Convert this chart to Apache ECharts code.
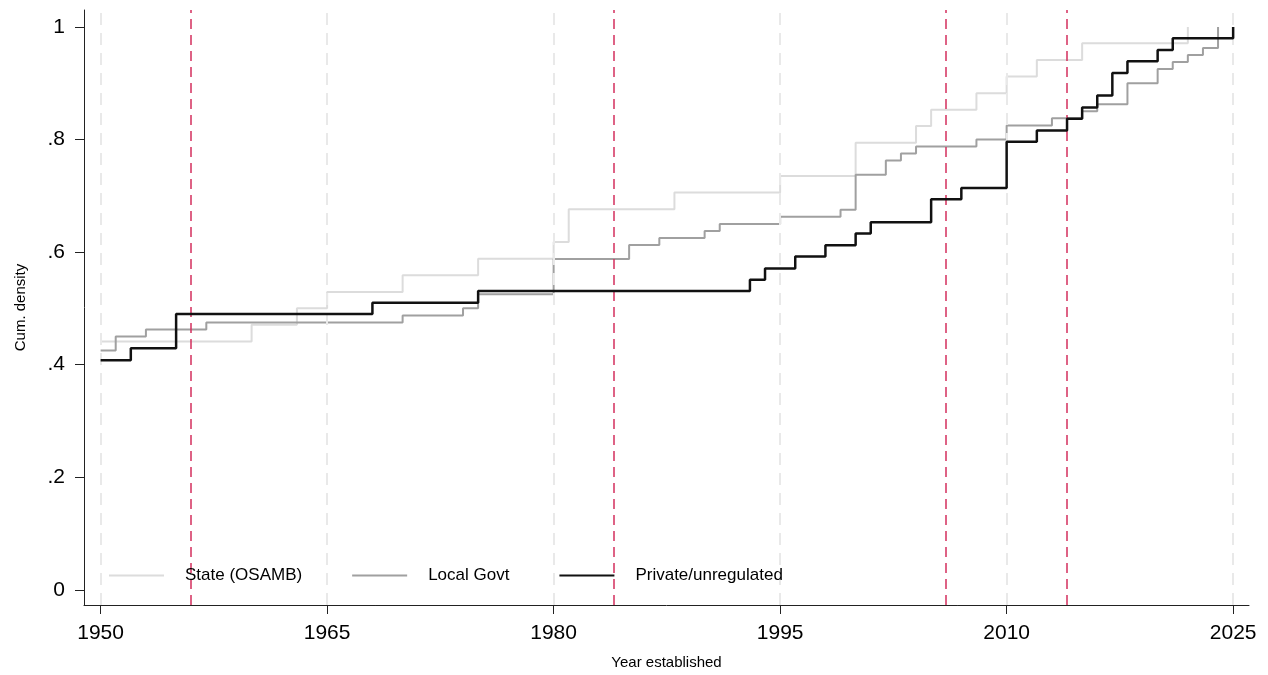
<!DOCTYPE html>
<html>
<head>
<meta charset="utf-8">
<script src="https://cdn.jsdelivr.net/npm/echarts@6/dist/echarts.min.js"></script>
<style>
html,body{margin:0;padding:0;background:#fff;}
#c{width:1268px;height:675px;}
</style>
</head>
<body>
<div id="c"></div>
<script>
const xTicks = [1950, 1965, 1980, 1995, 2010, 2025];
const yTicks = [0, 0.2, 0.4, 0.6, 0.8, 1];
const refYears = [1956, 1984, 2006, 2014];

const seriesNames = ['State (OSAMB)', 'Local Govt', 'Private/unregulated'];

const stateYears = [1950,1960,1963,1965,1970,1975,1980,1981,1988,1995,2000,2004,2005,2008,2010,2012,2015,2022];
const stateValues = [0.441,0.471,0.500,0.529,0.559,0.588,0.618,0.676,0.706,0.735,0.794,0.824,0.853,0.882,0.912,0.941,0.971,1.000];

const localYears = [1950,1951,1953,1957,1970,1974,1975,1980,1985,1987,1990,1991,1995,1999,2000,2002,2003,2004,2008,2010,2013,2015,2016,2018,2020,2021,2022,2023,2024];
const localValues = [0.425,0.450,0.4625,0.475,0.4875,0.500,0.525,0.5875,0.6125,0.625,0.6375,0.650,0.6625,0.675,0.7375,0.7625,0.775,0.7875,0.800,0.825,0.8375,0.850,0.8625,0.900,0.925,0.9375,0.950,0.9625,1.000];

const privateYears = [1950,1952,1955,1968,1975,1993,1994,1996,1998,2000,2001,2005,2007,2010,2012,2014,2015,2016,2017,2018,2020,2021,2025];
const privateValues = [0.408,0.429,0.490,0.510,0.531,0.551,0.571,0.592,0.612,0.633,0.653,0.694,0.714,0.796,0.816,0.837,0.857,0.878,0.918,0.939,0.959,0.980,1.000];

const zip = (xs, ys) => xs.map((x, i) => [x, ys[i]]);
const FONT = '"Liberation Sans", Arial, sans-serif';

const chart = echarts.init(document.getElementById('c'), null, {renderer: 'canvas'});

const lineSeries = (name, xs, ys, color, width, z) => ({
  name, type: 'line', step: 'end', data: zip(xs, ys),
  showSymbol: false, symbol: 'none', z,
  lineStyle: {color, width}, itemStyle: {color},
  emphasis: {disabled: true}
});

chart.setOption({
  animation: false,
  backgroundColor: '#ffffff',
  grid: {left: 84, right: 19, top: 10, bottom: 70, containLabel: false},
  legend: {
    data: seriesNames,
    left: 104, top: 562, z: 50,
    icon: 'rect', itemWidth: 55, itemHeight: 2, itemGap: 50,
    formatter: name => '{g|}' + name,
    textStyle: {fontFamily: FONT, fontSize: 17, color: '#000',
      rich: {g: {width: 16, fontSize: 17}}}
  },
  xAxis: {
    type: 'value', min: 1948.9, max: 2026.05,
    name: 'Year established', nameLocation: 'middle', nameGap: 50,
    nameTextStyle: {fontFamily: FONT, fontSize: 15, color: '#000'},
    axisLine: {show: true, onZero: false, lineStyle: {color: '#222', width: 1}},
    axisTick: {show: true, length: 9, customValues: xTicks, lineStyle: {color: '#222'}},
    axisLabel: {customValues: xTicks, margin: 18, fontFamily: FONT, fontSize: 21, color: '#000',
      formatter: v => String(Math.round(v))},
    splitLine: {show: false}
  },
  yAxis: {
    type: 'value', min: -0.027, max: 1.03,
    name: 'Cum. density', nameLocation: 'middle', nameGap: 56, nameRotate: 90,
    nameTextStyle: {fontFamily: FONT, fontSize: 15, color: '#000'},
    axisLine: {show: true, onZero: false, lineStyle: {color: '#222', width: 1}},
    axisTick: {show: true, length: 9, customValues: yTicks, lineStyle: {color: '#222'}},
    axisLabel: {
      customValues: yTicks, margin: 19, fontFamily: FONT, fontSize: 21, color: '#000',
      formatter: v => (Math.abs(v) < 1e-9 ? '0' : (Math.abs(v - 1) < 1e-9 ? '1' : ('.' + Math.round(v * 10))))
    },
    splitLine: {show: false}
  },
  series: [
    {
      name: 'grid', type: 'line', data: [], z: 1, silent: true,
      markLine: {
        silent: true, symbol: ['none', 'none'], label: {show: false}, animation: false,
        lineStyle: {color: '#e9e9e9', width: 2, type: [12, 8]},
        emphasis: {disabled: true},
        data: xTicks.map(x => ({xAxis: x}))
      }
    },
    lineSeries(seriesNames[0], stateYears, stateValues, '#dcdcdc', 2, 3),
    lineSeries(seriesNames[1], localYears, localValues, '#a0a0a0', 2, 4),
    lineSeries(seriesNames[2], privateYears, privateValues, '#111111', 2.5, 5),
    {
      name: 'ref', type: 'line', data: [], z: 6, silent: true,
      markLine: {
        silent: true, symbol: ['none', 'none'], label: {show: false}, animation: false,
        lineStyle: {color: '#d42f5d', width: 1.5, type: [10, 6]},
        emphasis: {disabled: true},
        data: refYears.map(x => ({xAxis: x}))
      }
    }
  ]
});
</script>
</body>
</html>
